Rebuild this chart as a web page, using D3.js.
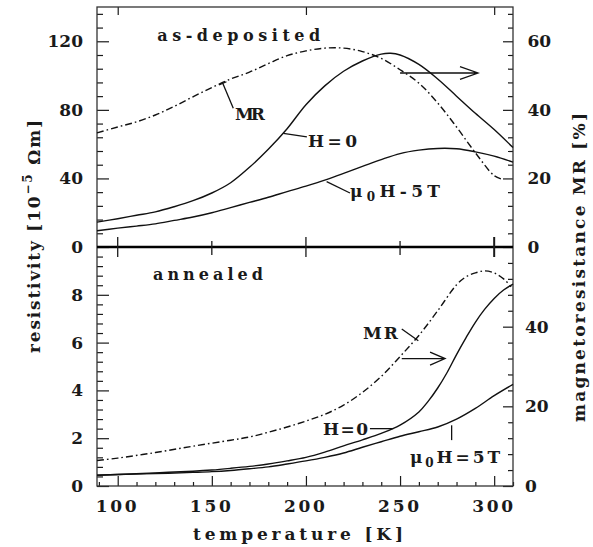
<!DOCTYPE html>
<html><head><meta charset="utf-8">
<script src="https://cdn.jsdelivr.net/npm/d3@7"></script>
<style>body{margin:0;background:#fff}</style>
</head><body>
<svg id="c" width="593" height="547"></svg>
<script>
// ---------- data ----------
// as-deposited panel
const tempTopH0 = [89,100,110,120,130,140,150,160,170,180,190,200,210,220,230,240,245,250,260,270,280,290,300,310];
const rhoTopH0  = [14.5,16.5,18.5,20.5,23.5,27,31.5,37.5,46.5,57,69,83,94,102.5,108.5,112.5,113,112,106.5,98,88,78,68.5,58];
const tempTop5T = [89,100,110,120,130,140,150,160,170,180,190,200,210,220,230,240,250,260,270,280,290,300,310];
const rhoTop5T  = [9.5,11,12.2,13.5,15.5,17.5,20,23,26,29,32.3,35.5,39,43,47,51,54.5,56.5,57.5,57.3,55.5,53,49.5];
const tempTopMR = [89,100,110,120,130,140,150,160,170,180,190,200,210,220,230,240,250,260,270,280,290,300,304];
const mrTop     = [33.3,35,36.5,38.5,41,43.8,46.5,49,51,53.5,55.8,57.2,58,58,57,55,51.7,47.8,42,35,27.5,20.8,19.8];
// annealed panel
const tempBotH0 = [89,100,120,140,150,160,170,180,190,200,210,220,230,240,250,260,265,270,275,280,285,290,295,300,305,310];
const rhoBotH0  = [0.45,0.48,0.55,0.62,0.67,0.74,0.82,0.92,1.05,1.2,1.42,1.68,1.93,2.2,2.55,3.1,3.55,4.1,4.75,5.5,6.2,6.85,7.4,7.85,8.2,8.45];
const tempBot5T = [89,100,120,140,150,160,170,180,190,200,210,220,230,240,250,260,270,280,290,300,310];
const rhoBot5T  = [0.45,0.48,0.52,0.57,0.6,0.65,0.72,0.8,0.92,1.05,1.2,1.38,1.62,1.85,2.08,2.27,2.47,2.8,3.25,3.78,4.25];
const tempBotMR = [89,100,120,140,160,170,180,190,200,210,220,230,240,250,260,270,280,285,290,295,300,305,309];
const mrBot     = [6.4,7,8.4,10,11.5,12.3,13.5,14.8,16.3,18,20.3,23.5,27.5,32.5,37.8,44,50.5,52.5,53.5,54,53.5,52,50];
// tick labels
const xTickLabels   = [100,150,200,250,300];
const topLeftTicks  = [0,40,80,120];
const topRightTicks = [0,20,40,60];
const botLeftTicks  = [0,2,4,6,8];
const botRightTicks = [0,20,40];

// ---------- layout ----------
const X0=97, X1=513, YT=7, YM=247, YB=486;
const FONT = "'DejaVu Serif', serif";
const INK = "#1a1a1a";
const svg = d3.select("#c");
svg.append("rect").attr("width",593).attr("height",547).attr("fill","#fff");

const x   = d3.scaleLinear().domain([89,310]).range([X0,X1]);
const yTL = d3.scaleLinear().domain([0,140]).range([YM,YT]);
const yTR = d3.scaleLinear().domain([0,70]).range([YM,YT]);
const yBL = d3.scaleLinear().domain([0,10]).range([YB,YM]);
const yBR = d3.scaleLinear().domain([0,60]).range([YB,YM]);

function style(g){
  g.select(".domain").remove();
  g.selectAll("line").attr("stroke",INK).attr("stroke-width",1.2);
  g.selectAll("text").attr("font-family",FONT).attr("font-weight","bold")
    .attr("font-size",17).attr("fill",INK);
}
function minor(lo,hi,step,skip){ return d3.range(lo,hi+1e-9,step).filter(v=>!skip.some(s=>Math.abs(s-v)<1e-6)); }

// left axes
svg.append("g").attr("transform",`translate(${X0},0)`)
  .call(d3.axisLeft(yTL).tickValues(topLeftTicks).tickSize(-12).tickPadding(14).tickFormat(d3.format("d"))).call(style);
svg.append("g").attr("transform",`translate(${X0},0)`)
  .call(d3.axisLeft(yTL).tickValues(minor(8,136,8,topLeftTicks)).tickSize(-6).tickFormat("")).call(style);
svg.append("g").attr("transform",`translate(${X0},0)`)
  .call(d3.axisLeft(yBL).tickValues(botLeftTicks).tickSize(-12).tickPadding(14).tickFormat(d3.format("d"))).call(style);
svg.append("g").attr("transform",`translate(${X0},0)`)
  .call(d3.axisLeft(yBL).tickValues(minor(0.4,9.6,0.4,botLeftTicks)).tickSize(-6).tickFormat("")).call(style);
// right axes
svg.append("g").attr("transform",`translate(${X1},0)`)
  .call(d3.axisRight(yTR).tickValues(topRightTicks).tickSize(-10).tickPadding(14.5).tickFormat(d3.format("d"))).call(style);
svg.append("g").attr("transform",`translate(${X1},0)`)
  .call(d3.axisRight(yTR).tickValues(minor(4,68,4,topRightTicks)).tickSize(-5).tickFormat("")).call(style);
svg.append("g").attr("transform",`translate(${X1},0)`)
  .call(d3.axisRight(yBR).tickValues(botRightTicks).tickSize(-10).tickPadding(12).tickFormat(d3.format("d"))).call(style);
svg.append("g").attr("transform",`translate(${X1},0)`)
  .call(d3.axisRight(yBR).tickValues(minor(4,56,4,botRightTicks)).tickSize(-5).tickFormat("")).call(style);
// bottom axis
const bx = svg.append("g").attr("transform",`translate(0,${YB})`)
  .call(d3.axisBottom(x).tickValues(xTickLabels).tickSize(-10).tickPadding(13.5).tickFormat(d3.format("d"))).call(style);
bx.selectAll("text").attr("textLength",41).attr("lengthAdjust","spacing").attr("dx",-2);
svg.append("g").attr("transform",`translate(0,${YB})`)
  .call(d3.axisBottom(x).tickValues(minor(90,310,10,xTickLabels)).tickSize(-4).tickFormat("")).call(style);
// top border ticks
svg.append("g").attr("transform",`translate(0,${YT})`)
  .call(d3.axisTop(x).tickValues([100,200,300]).tickSize(-8).tickFormat("")).call(style);

// frame
svg.append("rect").attr("x",X0).attr("y",YT).attr("width",X1-X0).attr("height",YB-YT)
  .attr("fill","none").attr("stroke","#333").attr("stroke-width",1.3);
// middle separator
svg.append("line").attr("x1",X0).attr("x2",X1).attr("y1",YM).attr("y2",YM)
  .attr("stroke","#000").attr("stroke-width",2.6);
svg.append("g").selectAll("line").data(xTickLabels).join("line")
  .attr("x1",d=>x(d)).attr("x2",d=>x(d))
  .attr("y1",d=>YM-(d%100===0?10:6)).attr("y2",d=>YM+(d%100===0?10:8))
  .attr("stroke",INK).attr("stroke-width",d=>d===300?2:1.3);

// ---------- curves ----------
function curve(ts, vs, ys, dashed){
  const line = d3.line().x(d=>x(d[0])).y(d=>ys(d[1])).curve(d3.curveCatmullRom.alpha(0.5));
  svg.append("path").datum(d3.zip(ts,vs)).attr("d",line)
    .attr("fill","none").attr("stroke","#111").attr("stroke-width",1.4)
    .attr("stroke-dasharray",dashed?"7,3,1.6,3":null);
}
curve(tempTopH0,rhoTopH0,yTL,false);
curve(tempTop5T,rhoTop5T,yTL,false);
curve(tempTopMR,mrTop,yTR,true);
curve(tempBotH0,rhoBotH0,yBL,false);
curve(tempBot5T,rhoBot5T,yBL,false);
curve(tempBotMR,mrBot,yBR,true);

// ---------- annotations ----------
const Y = p => p==="top"?yTL:yBL;
function seg(p,t1,v1,t2,v2){
  svg.append("line").attr("x1",x(t1)).attr("y1",Y(p)(v1)).attr("x2",x(t2)).attr("y2",Y(p)(v2))
    .attr("stroke","#111").attr("stroke-width",1.3);
}
function label(p,t,v,len){
  return svg.append("text").attr("x",x(t)).attr("y",Y(p)(v))
    .attr("font-family",FONT).attr("font-weight","bold").attr("font-size",17).attr("fill",INK)
    .attr("textLength",len).attr("lengthAdjust","spacing");
}
function arrow(p,t1,t2,v,hl,hw){
  const y=Y(p)(v), xa=x(t1), xb=x(t2);
  svg.append("path").attr("d",`M${xa},${y}H${xb}M${xb-hl},${y-hw}L${xb},${y}L${xb-hl},${y+hw}`)
    .attr("fill","none").attr("stroke","#111").attr("stroke-width",1.3);
}
function mu(p,t,v,len,rest){
  const tx = label(p,t,v,len);
  tx.append("tspan").text("μ");
  tx.append("tspan").attr("dy",4).attr("font-size",12).text("0");
  tx.append("tspan").attr("dy",-4).text(rest);
}

// top panel
label("top",121,120,163).attr("font-size",16).text("as-deposited");
seg("top",155.8,95.5,161.4,80.9);
{ // small bar at end of MR pointer
  const ax=x(155.8), ay=yTL(95.5), bxp=x(161.4), by=yTL(80.9);
  const dx=bxp-ax, dy=by-ay, L=Math.hypot(dx,dy), nx=-dy/L*4, ny=dx/L*4;
  svg.append("line").attr("x1",ax+nx).attr("y1",ay+ny).attr("x2",ax-nx).attr("y2",ay-ny)
    .attr("stroke","#111").attr("stroke-width",1.3);
}
label("top",162.3,74.1,30).text("MR");
seg("top",188,66.3,200.5,64.2);
label("top",201.1,58.3,49).text("H=0");
seg("top",211,38.1,223.4,31.5);
mu("top",223.4,29.2,90,"H-5T");
arrow("top",250,291.4,101.5,18,6.3);

// bottom panel
label("bot",118.75,8.625,110).attr("font-size",16).text("annealed");
label("bot",230.3,6.17,35).text("MR");
seg("bot",250.9,6.57,259.7,6.08);
arrow("bot",250.9,273.9,5.33,15,6.5);
label("bot",209.1,2.125,45).text("H=0");
seg("bot",234,2.4,246.4,2.4);
mu("bot",255.3,0.96,90,"H=5T");
seg("bot",277.4,2.54,277.4,1.92);

// ---------- axis titles ----------
svg.append("text").attr("x",193).attr("y",540)
  .attr("font-family",FONT).attr("font-weight","bold").attr("font-size",17).attr("fill",INK)
  .attr("textLength",210).attr("lengthAdjust","spacing").text("temperature [K]");

const lt = svg.append("text").attr("transform","translate(40,353) rotate(-90)")
  .attr("font-family",FONT).attr("font-weight","bold").attr("font-size",17).attr("fill",INK)
  .attr("textLength",233).attr("lengthAdjust","spacing");
lt.append("tspan").text("resistivity [10");
lt.append("tspan").attr("dy",-8).attr("font-size",12).text("−5");
lt.append("tspan").attr("dy",8).text(" Ωm]");

svg.append("text").attr("transform","translate(585,422) rotate(-90)")
  .attr("font-family",FONT).attr("font-weight","bold").attr("font-size",17).attr("fill",INK)
  .attr("textLength",309).attr("lengthAdjust","spacing").text("magnetoresistance MR [%]");
</script>
</body></html>
